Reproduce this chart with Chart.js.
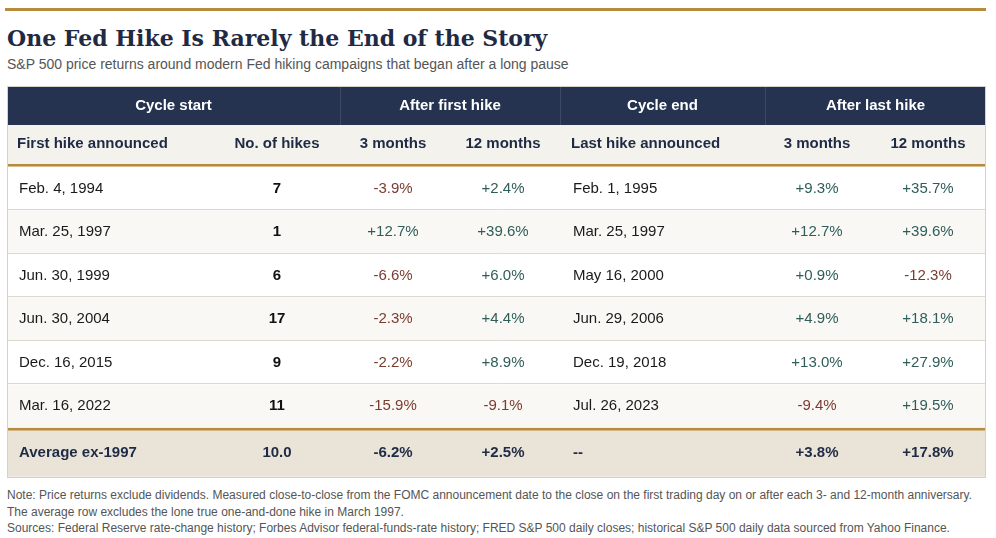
<!DOCTYPE html>
<html>
<head>
<meta charset="utf-8">
<script src="https://cdn.jsdelivr.net/npm/chart.js@4.4.1/dist/chart.umd.min.js"></script>
<style>
    body { margin: 0; width: 996px; height: 538px; background: #fff; position: relative; overflow: hidden;
           font-family: "Liberation Sans", Arial, sans-serif; }
    .rule { position: absolute; left: 5px; top: 8px; width: 981px; height: 3px; background: #b68b3e; }
    h1 { position: absolute; left: 7px; top: 27px; margin: 0; white-space: nowrap;
         font: bold 22px/23px "DejaVu Serif", Georgia, serif; color: #1f2a44; }
    .sub { position: absolute; left: 7px; top: 56px; font-size: 14px; line-height: 16px; color: #555; white-space: nowrap; }
    #wrap { position: absolute; left: 0; top: 86px; width: 996px; height: 392px; }
    .note { position: absolute; left: 7px; font-size: 12px; line-height: 16.5px; color: #555; white-space: nowrap; }
</style>
</head>
<body>
<div class="rule"></div>
<h1>One Fed Hike Is Rarely the End of the Story</h1>
<div class="sub">S&amp;P 500 price returns around modern Fed hiking campaigns that began after a long pause</div>
<div id="wrap"><canvas id="tableChart"></canvas></div>
<div class="note" style="top:487px">Note: Price returns exclude dividends. Measured close-to-close from the FOMC announcement date to the close on the first trading day on or after each 3- and 12-month anniversary.<br>The average row excludes the lone true one-and-done hike in March 1997.</div>
<div class="note" style="top:520px">Sources: Federal Reserve rate-change history; Forbes Advisor federal-funds-rate history; FRED S&amp;P 500 daily closes; historical S&amp;P 500 daily data sourced from Yahoo Finance.</div>

<script>
// Dados da tabela
const groupHeaders = ['Cycle start', 'After first hike', 'Cycle end', 'After last hike'];
const columnHeaders = ['First hike announced', 'No. of hikes', '3 months', '12 months', 'Last hike announced', '3 months', '12 months'];
const firstHike = ['Feb. 4, 1994', 'Mar. 25, 1997', 'Jun. 30, 1999', 'Jun. 30, 2004', 'Dec. 16, 2015', 'Mar. 16, 2022'];
const hikes = [7, 1, 6, 17, 9, 11];
const first3m = [-3.9, 12.7, -6.6, -2.3, -2.2, -15.9];
const first12m = [2.4, 39.6, 6.0, 4.4, 8.9, -9.1];
const lastHike = ['Feb. 1, 1995', 'Mar. 25, 1997', 'May 16, 2000', 'Jun. 29, 2006', 'Dec. 19, 2018', 'Jul. 26, 2023'];
const last3m = [9.3, 12.7, 0.9, 4.9, 13.0, -9.4];
const last12m = [35.7, 39.6, -12.3, 18.1, 27.9, 19.5];
const averageRow = ['Average ex-1997', '10.0', -6.2, 2.5, '--', 3.8, 17.8];

// Layout (pixels dentro da área do gráfico)
const TW = 979, TH = 392;
const NAVY_H = 39, SUB_H = 39, GOLD_H = 2.7, ROW_H = 43.5, AVG_H = 46;
const dataTop = NAVY_H + SUB_H + GOLD_H;
const gold2Top = dataTop + ROW_H * firstHike.length;
const avgTop = gold2Top + 3;
const groupEdges = [0, 333, 553, 758, TW];
const colX = [12, 270, 386, 496, 566, 810, 921];
const headX = [10, 270, 386, 496, 564, 810, 921];
const colAlign = ['left', 'center', 'center', 'center', 'left', 'center', 'center'];

const NAVY = '#253250', GOLD = '#b68b3e', INK = '#1f2a44';
const NEG = '#7a3b2f', POS = '#2e5d5a', LINE = '#dcd8d0';

const band = (top, h) => ({ y: top + h / 2, x: [0, TW] });
const fmt = v => (v > 0 ? '+' : '') + v.toFixed(1) + '%';

const whiteRows = [], tintRows = [];
firstHike.forEach((_, i) => (i % 2 ? tintRows : whiteRows).push(band(dataTop + ROW_H * i, ROW_H)));

function bandSet(data, color, h) {
    return { data: data, backgroundColor: color, barThickness: h, grouped: false, borderWidth: 0, inflateAmount: 0 };
}

const tablePlugin = {
    id: 'tableText',
    afterDatasetsDraw(chart) {
        const ctx = chart.ctx;
        const sx = v => chart.scales.x.getPixelForValue(v);
        const sy = v => chart.scales.y.getPixelForValue(v);
        ctx.save();

        // linhas entre as linhas de dados
        ctx.strokeStyle = LINE;
        ctx.lineWidth = 1;
        for (let i = 1; i < firstHike.length; i++) {
            const yy = Math.round(sy(dataTop + ROW_H * i)) - 0.5;
            ctx.beginPath(); ctx.moveTo(sx(0), yy); ctx.lineTo(sx(TW), yy); ctx.stroke();
        }
        // borda externa
        ctx.strokeStyle = '#d5d1c9';
        ctx.strokeRect(sx(0) + 0.5, sy(0) + 0.5, sx(TW) - sx(0) - 1, sy(TH - 1) - sy(0));
        // divisórias do cabeçalho
        ctx.strokeStyle = '#3c4864';
        groupEdges.slice(1, -1).forEach(e => {
            const xx = Math.round(sx(e)) + 0.5;
            ctx.beginPath(); ctx.moveTo(xx, sy(0) + 1); ctx.lineTo(xx, sy(NAVY_H)); ctx.stroke();
        });

        ctx.textBaseline = 'middle';
        const text = (s, x, y, align, color, bold) => {
            ctx.font = (bold ? 'bold ' : '') + '15px "Liberation Sans", Arial, sans-serif';
            ctx.fillStyle = color;
            ctx.textAlign = align;
            ctx.fillText(s, sx(x), sy(y));
        };

        groupHeaders.forEach((g, i) => text(g, (groupEdges[i] + groupEdges[i + 1]) / 2, NAVY_H / 2, 'center', '#fff', true));
        columnHeaders.forEach((h, i) => text(h, headX[i], NAVY_H + SUB_H / 2 - 1, colAlign[i], INK, true));

        firstHike.forEach((d, i) => {
            const cy = dataTop + ROW_H * i + ROW_H / 2;
            text(d, colX[0], cy, 'left', '#1a1a1a', false);
            text(String(hikes[i]), colX[1], cy, 'center', '#111', true);
            text(fmt(first3m[i]), colX[2], cy, 'center', first3m[i] < 0 ? NEG : POS, false);
            text(fmt(first12m[i]), colX[3], cy, 'center', first12m[i] < 0 ? NEG : POS, false);
            text(lastHike[i], colX[4], cy, 'left', '#1a1a1a', false);
            text(fmt(last3m[i]), colX[5], cy, 'center', last3m[i] < 0 ? NEG : POS, false);
            text(fmt(last12m[i]), colX[6], cy, 'center', last12m[i] < 0 ? NEG : POS, false);
        });

        const ay = avgTop + AVG_H / 2 - 1;
        averageRow.forEach((v, i) => {
            const s = typeof v === 'number' ? fmt(v) : v;
            text(s, colX[i], ay, colAlign[i], INK, true);
        });
        ctx.restore();
    }
};

document.addEventListener('DOMContentLoaded', function() {
    const ctx = document.getElementById('tableChart').getContext('2d');
    new Chart(ctx, {
        type: 'bar',
        data: {
            datasets: [
                bandSet([band(0, NAVY_H)], NAVY, NAVY_H),
                bandSet([band(NAVY_H, SUB_H)], '#f4f2ec', SUB_H),
                bandSet(whiteRows, '#ffffff', ROW_H),
                bandSet(tintRows, '#faf8f4', ROW_H),
                bandSet([band(avgTop, AVG_H)], '#e9e3d8', AVG_H),
                bandSet([band(NAVY_H + SUB_H, GOLD_H), band(gold2Top, 3)], GOLD, 3)
            ]
        },
        options: {
            indexAxis: 'y',
            responsive: true,
            maintainAspectRatio: false,
            animation: false,
            events: [],
            layout: { padding: { left: 7, right: 10, top: 0, bottom: 0 } },
            scales: {
                x: { type: 'linear', min: 0, max: TW, display: false, offset: false },
                y: { type: 'linear', min: 0, max: TH, reverse: true, display: false, offset: false }
            },
            plugins: {
                legend: { display: false },
                tooltip: { enabled: false }
            }
        },
        plugins: [tablePlugin]
    });
});
</script>
</body>
</html>
